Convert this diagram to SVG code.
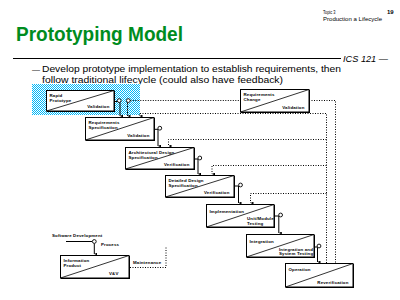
<svg xmlns="http://www.w3.org/2000/svg" width="400" height="300" viewBox="0 0 400 300">
<style>
text{font-family:"Liberation Sans",Arial,sans-serif;fill:#000}
.bx{fill:#fff;stroke:#000;stroke-width:1}
.sh{fill:#000}
.dg{stroke:#000;stroke-width:0.8;fill:none}
.lb{font-size:4.4px;font-weight:bold;letter-spacing:0.15px}
.r{text-anchor:end}
.sl{fill:none;stroke:#000;stroke-width:1}
.dt{fill:none;stroke:#000;stroke-width:1;stroke-dasharray:1 1.5}
.ds{fill:none;stroke:#000;stroke-width:1;stroke-dasharray:2 1}
.ci{fill:#fff;stroke:#000;stroke-width:0.9}
</style>
<defs>
<pattern id="chk" width="2" height="2" patternUnits="userSpaceOnUse">
<rect width="2" height="2" fill="#fff"/>
<rect width="1" height="1" fill="#00b8f8"/>
<rect x="1" y="1" width="1" height="1" fill="#00b8f8"/>
</pattern>
<marker id="ah" viewBox="0 0 4 4" refX="2" refY="4" markerWidth="3" markerHeight="3" orient="auto-start-reverse" markerUnits="userSpaceOnUse">
<path d="M0,0 L4,0 L2,4 Z" fill="#000"/>
</marker>
</defs>
<rect width="400" height="300" fill="#fff"/>

<g id="header">
<text x="323" y="13.5" font-size="6" textLength="12.5" lengthAdjust="spacingAndGlyphs">Topic 3</text>
<text x="387" y="13.5" font-size="6" font-weight="bold">19</text>
<text x="323" y="21" font-size="6" textLength="59" lengthAdjust="spacingAndGlyphs">Production a Lifecycle</text>
<text x="16" y="41" font-size="19.5" font-weight="bold" fill="#008c1e" style="fill:#008c1e" textLength="167" lengthAdjust="spacingAndGlyphs">Prototyping Model</text>
<line x1="13" y1="58.5" x2="341" y2="58.5" stroke="#000" stroke-width="1"/>
<text x="343" y="61.5" font-size="8.5" font-style="italic" textLength="45" lengthAdjust="spacingAndGlyphs">ICS 121 —</text>
<text x="32" y="71.5" font-size="8">—</text>
<text x="42" y="72" font-size="9.3" textLength="299" lengthAdjust="spacingAndGlyphs">Develop prototype implementation to establish requirements, then</text>
<text x="42" y="82.5" font-size="9.3" textLength="241" lengthAdjust="spacingAndGlyphs">follow traditional lifecycle (could also have feedback)</text>
</g>

<rect id="highlight" x="32" y="84" width="108" height="31" fill="url(#chk)"/>

<g id="connectors">
<path class="sl" d="M114,101.5 H117.5"/>
<path class="sl" d="M120,102.5 V116" marker-end="url(#ah)"/>
<circle class="ci" cx="119.2" cy="100.6" r="1.9"/>
<path class="ds" d="M127.5,102.5 V116" marker-end="url(#ah)"/>
<circle class="ci" cx="128.3" cy="100.6" r="1.9"/>
<path class="dt" d="M130.3,100.5 H240"/>

<path class="sl" d="M154,129.3 H158 V146" marker-end="url(#ah)"/>
<circle class="ci" cx="159.8" cy="128.2" r="1.9"/>
<path class="sl" d="M194,159 H198 V174" marker-end="url(#ah)"/>
<circle class="ci" cx="199.8" cy="158" r="1.9"/>
<path class="sl" d="M234,186 H238.5 V203" marker-end="url(#ah)"/>
<circle class="ci" cx="240.5" cy="185" r="1.9"/>
<path class="sl" d="M274,216 H278.8 V233" marker-end="url(#ah)"/>
<circle class="ci" cx="280.6" cy="215" r="1.9"/>
<path class="sl" d="M314,247 H317.5 V262" marker-end="url(#ah)"/>
<circle class="ci" cx="319" cy="246" r="1.9"/>

<path class="dt" d="M309,100.5 H335.5 V263"/>
<path class="dt" d="M326.5,263 V113.5 H139.5 V116" marker-end="url(#ah)"/>
<path class="dt" d="M326.5,139.5 H168.5 V146" marker-end="url(#ah)"/>
<path class="dt" d="M326.5,165.5 H212 V174" marker-end="url(#ah)"/>
<path class="dt" d="M326.5,193.5 H250.5 V203" marker-end="url(#ah)"/>

<path class="sl" d="M66,241.5 H92"/>
<path class="sl" d="M94.3,243.4 V254" marker-end="url(#ah)"/>
<circle class="ci" cx="94.3" cy="241.5" r="1.9"/>
<path class="dt" d="M130,267.5 H166 V246.5"/>
</g>

<g id="rapid-prototype">
<rect class="sh" x="47" y="91" width="68" height="21"/>
<rect class="bx" x="46.5" y="90.5" width="67.5" height="20.5"/>
<line class="dg" x1="46.5" y1="111" x2="114" y2="90.5"/>
<text class="lb" x="49.5" y="97">Rapid</text>
<text class="lb" x="49.5" y="102">Prototype</text>
<text class="lb r" x="109.5" y="107.5">Validation</text>
</g>

<g id="requirements-change">
<rect class="sh" x="241" y="90" width="69" height="23"/>
<rect class="bx" x="240.5" y="89.5" width="68.5" height="22.5"/>
<line class="dg" x1="240.5" y1="112" x2="309" y2="89.5"/>
<text class="lb" x="243.5" y="96">Requirements</text>
<text class="lb" x="243.5" y="101">Change</text>
<text class="lb r" x="304.5" y="108.5">Validation</text>
</g>

<g id="requirements-specification">
<rect class="sh" x="86" y="118" width="69" height="23"/>
<rect class="bx" x="85.5" y="117.5" width="68.5" height="22.5"/>
<line class="dg" x1="85.5" y1="140" x2="154" y2="117.5"/>
<text class="lb" x="88.5" y="124">Requirements</text>
<text class="lb" x="88.5" y="129">Specification</text>
<text class="lb r" x="149.5" y="136.5">Validation</text>
</g>

<g id="architectural-design">
<rect class="sh" x="126" y="148" width="69" height="22"/>
<rect class="bx" x="125.5" y="147.5" width="68.5" height="21.5"/>
<line class="dg" x1="125.5" y1="169" x2="194" y2="147.5"/>
<text class="lb" x="128.5" y="154">Architectural Design</text>
<text class="lb" x="128.5" y="159">Specification</text>
<text class="lb r" x="189.5" y="166">Verification</text>
</g>

<g id="detailed-design">
<rect class="sh" x="166" y="176" width="69" height="22"/>
<rect class="bx" x="165.5" y="175.5" width="68.5" height="21.5"/>
<line class="dg" x1="165.5" y1="197" x2="234" y2="175.5"/>
<text class="lb" x="168.5" y="181.5">Detailed Design</text>
<text class="lb" x="168.5" y="186.5">Specification</text>
<text class="lb r" x="229.5" y="194">Verification</text>
</g>

<g id="implementation">
<rect class="sh" x="207" y="205" width="68" height="23"/>
<rect class="bx" x="206.5" y="204.5" width="67.5" height="22.5"/>
<line class="dg" x1="206.5" y1="227" x2="274" y2="204.5"/>
<text class="lb" x="209.5" y="212.5">Implementation</text>
<text class="lb" x="247" y="219.5">Unit/Module</text>
<text class="lb" x="247" y="224.5">Testing</text>
</g>

<g id="integration">
<rect class="sh" x="247" y="235" width="68" height="23"/>
<rect class="bx" x="246.5" y="234.5" width="67.5" height="22.5"/>
<line class="dg" x1="246.5" y1="257" x2="314" y2="234.5"/>
<text class="lb" x="249.5" y="242.5">Integration</text>
<text class="lb" x="279" y="250.5">Integration and</text>
<text class="lb" x="279" y="255.3">System Testing</text>
</g>

<g id="operation">
<rect class="sh" x="286" y="264" width="68" height="24"/>
<rect class="bx" x="285.5" y="263.5" width="67.5" height="23.5"/>
<line class="dg" x1="285.5" y1="287" x2="353" y2="263.5"/>
<text class="lb" x="288.5" y="271">Operation</text>
<text class="lb r" x="348.5" y="283.5">Reverification</text>
</g>

<g id="legend">
<text class="lb" x="52" y="237">Software Development</text>
<text class="lb" x="101" y="245.5">Process</text>
<rect class="sh" x="61" y="256" width="69" height="23"/>
<rect class="bx" x="60.5" y="255.5" width="68.5" height="22.5"/>
<line class="dg" x1="60.5" y1="278" x2="129" y2="255.5"/>
<text class="lb" x="63.5" y="262">Information</text>
<text class="lb" x="63.5" y="267">Product</text>
<text class="lb r" x="118.5" y="274.5">V&amp;V</text>
<text class="lb" x="133" y="263.5">Maintenance</text>
</g>
</svg>
